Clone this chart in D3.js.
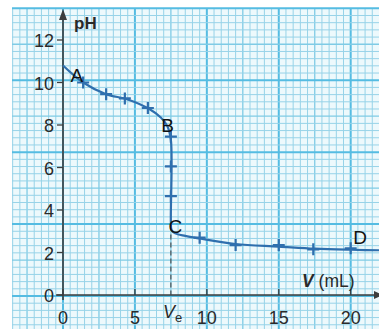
<!DOCTYPE html>
<html><head><meta charset="utf-8">
<script src="https://cdn.jsdelivr.net/npm/d3@7"></script>
<style>
html,body{margin:0;padding:0;background:#fff;}
svg{display:block;}
</style></head>
<body>
<svg id="c" width="379" height="329"></svg>
<script>
// ---- data ----
const xTicks = [0, 5, 10, 15, 20];
const yTicks = [0, 2, 4, 6, 8, 10, 12];
// measured points (crosses)
const measV  = [1.4, 3.0, 4.3, 5.9, 7.5, 7.5, 7.5, 9.5, 12.0, 15.0, 17.4, 20.0];
const measPH = [10.0, 9.45, 9.25, 8.8, 7.45, 6.05, 4.65, 2.7, 2.35, 2.35, 2.15, 2.2];
// fitted curve
const curveV  = [0, 1.4, 3.0, 4.5, 6.0, 6.8, 7.25, 7.5, 7.5, 7.55, 7.8, 8.5, 9.5, 12, 15, 17.5, 20, 22.5];
const curvePH = [10.8, 10.0, 9.45, 9.2, 8.75, 8.35, 7.95, 7.3, 3.4, 3.05, 2.9, 2.78, 2.66, 2.4, 2.28, 2.18, 2.13, 2.1];
const pointNames = ["A", "B", "C", "D"];
const pointV  = [0.97, 7.27, 7.82, 20.65];
const pointPH = [10.02, 7.67, 2.92, 2.4];
const Ve = 7.5;

// ---- scales ----
const x = d3.scaleLinear().domain([0, 20]).range([63, 350.7]);
const y = d3.scaleLinear().domain([0, 12]).range([295, 40]);

const svg = d3.select("#c");
const W = 379, H = 329;

// ---- graph paper ----
const paper = svg.append("g");
const gx0 = 12, gy0 = 8;
paper.append("rect").attr("x", gx0).attr("y", gy0).attr("width", W - gx0).attr("height", H - gy0).attr("fill", "#edf9fc");
const step = (x(20) - x(0)) / 40; // 1 mm = 0.5 mL
const vx = [], hy = [];
for (let k = -20; k < 80; k++) {
  const px = x(0) + k * step;
  if (px >= gx0 && px <= W) vx.push({p: px, k});
  const py = 296 - k * step;
  if (py >= gy0 && py <= H) hy.push({p: py, k});
}
function lineStyle(sel, k) {
  const m = ((k % 10) + 10) % 10;
  if (m === 0) sel.attr("stroke", "#55bce2").attr("stroke-width", 2);
  else if (m === 5) sel.attr("stroke", "#7fcbe5").attr("stroke-width", 1.3);
  else sel.attr("stroke", "#97d3e8").attr("stroke-width", 1);
}
vx.forEach(d => {
  const l = paper.append("line").attr("x1", d.p).attr("x2", d.p).attr("y1", gy0).attr("y2", H);
  lineStyle(l, d.k);
});
hy.forEach(d => {
  const l = paper.append("line").attr("y1", d.p).attr("y2", d.p).attr("x1", gx0).attr("x2", W);
  lineStyle(l, d.k);
});

// ---- axes ----
const axisColor = "#3d3d3d";
const font = "'Liberation Sans', Arial, sans-serif";
const ax = svg.append("g");
ax.append("line").attr("x1", x(0) - 7).attr("x2", W).attr("y1", y(0)).attr("y2", y(0))
  .attr("stroke", axisColor).attr("stroke-width", 1.6);
ax.append("path").attr("d", `M${W + 4},${y(0)} L${W - 5},${y(0) - 4} L${W - 5},${y(0) + 4} Z`).attr("fill", axisColor);
ax.append("line").attr("x1", x(0)).attr("x2", x(0)).attr("y1", y(0) + 5).attr("y2", 16)
  .attr("stroke", axisColor).attr("stroke-width", 1.6);
ax.append("path").attr("d", `M${x(0)},9 L${x(0) - 4},20 L${x(0) + 4},20 Z`).attr("fill", axisColor);

// y ticks
yTicks.forEach(t => {
  ax.append("line").attr("x1", x(0) - 6).attr("x2", x(0)).attr("y1", y(t)).attr("y2", y(t))
    .attr("stroke", axisColor).attr("stroke-width", 1.3);
  ax.append("text").attr("x", x(0) - 9).attr("y", y(t) + 7).attr("text-anchor", "end")
    .attr("font-family", font).attr("font-size", 18).attr("fill", "#2a2a2a").text(t);
});
// x ticks
xTicks.forEach(t => {
  ax.append("line").attr("x1", x(t)).attr("x2", x(t)).attr("y1", y(0) - 6).attr("y2", y(0))
    .attr("stroke", axisColor).attr("stroke-width", 1.3);
  ax.append("text").attr("x", x(t)).attr("y", 324).attr("text-anchor", "middle")
    .attr("font-family", font).attr("font-size", 18).attr("fill", "#2a2a2a").text(t);
});

// axis titles
svg.append("text").attr("x", 74).attr("y", 29).attr("font-family", font).attr("font-weight", "bold")
  .attr("font-size", 17).attr("fill", "#2a2a2a").text("pH");
const vt = svg.append("text").attr("x", 302).attr("y", 287).attr("font-family", font)
  .attr("font-size", 17.5).attr("fill", "#2a2a2a");
vt.append("tspan").attr("font-weight", "bold").attr("font-style", "italic").text("V");
vt.append("tspan").text(" (mL)");
const ve = svg.append("text").attr("x", x(Ve) - 8).attr("y", 318).attr("font-family", font)
  .attr("font-size", 18).attr("fill", "#2a2a2a");
ve.append("tspan").attr("font-style", "italic").text("V");
ve.append("tspan").attr("font-size", 13).attr("dy", 4).text("e");

// dashed equivalence line
svg.append("line").attr("x1", x(Ve)).attr("x2", x(Ve)).attr("y1", y(2.85)).attr("y2", y(0))
  .attr("stroke", "#444").attr("stroke-width", 1.1).attr("stroke-dasharray", "5,3");

// ---- curve ----
const curvePts = curveV.map((v, i) => [v, curvePH[i]]);
const line = d3.line().x(d => x(d[0])).y(d => y(d[1])).curve(d3.curveCatmullRom.alpha(0.5));
svg.append("path").attr("d", line(curvePts)).attr("fill", "none")
  .attr("stroke", "#2f6fae").attr("stroke-width", 2.2);

// crosses
const cs = 6;
measV.forEach((v, i) => {
  const cx = x(v), cy = y(measPH[i]);
  svg.append("path").attr("d", `M${cx - cs},${cy} H${cx + cs} M${cx},${cy - cs} V${cy + cs}`)
    .attr("stroke", "#2f6fae").attr("stroke-width", 2.2).attr("fill", "none");
});

// point labels
pointNames.forEach((n, i) => {
  svg.append("text").attr("x", x(pointV[i])).attr("y", y(pointPH[i])).attr("text-anchor", "middle")
    .attr("font-family", font).attr("font-size", 19).attr("fill", "#111").text(n);
});
</script>
</body></html>
